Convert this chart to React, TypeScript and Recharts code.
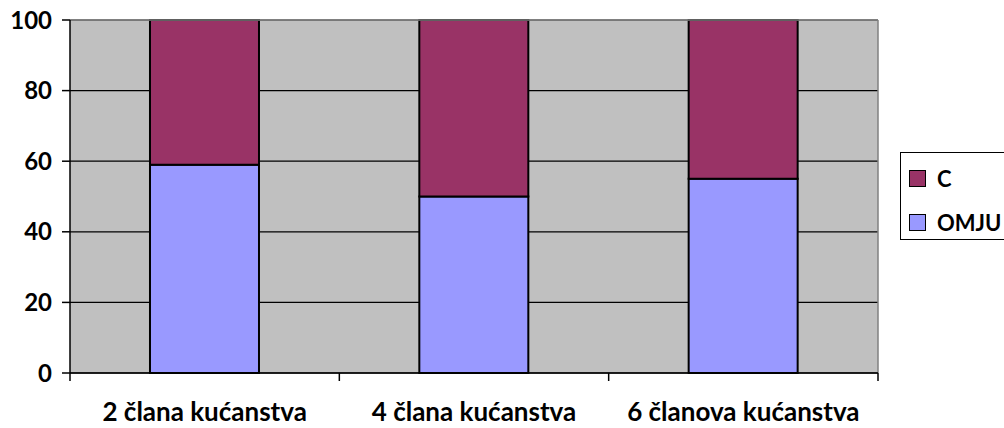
import { Bar, BarChart, CartesianGrid, ReferenceLine, XAxis, YAxis } from 'recharts';

// kategorije i vrijednosti (postotci)
const categories = ['2 člana kućanstva', '4 člana kućanstva', '6 članova kućanstva'];
const omju = [59, 50, 55];
const c = [41, 50, 45];
const yTicks = [0, 20, 40, 60, 80, 100];
// rubovi kategorija (0..3) i sredine (x.5) za donju os
const edgeTicks = [0, 0.5, 1, 1.5, 2, 2.5, 3];

const FONT = 'Lato, "Open Sans", sans-serif';
const COLORS = { omju: '#9999FF', c: '#993366', plot: '#C0C0C0' };

const data = categories.map((name, i) => ({ name, pos: i + 0.5, OMJU: omju[i], C: c[i] }));

const EdgeTick = (props: any) => {
  const { x, y, payload } = props;
  const v = payload.value as number;
  if (Number.isInteger(v)) {
    // crtica na granici kategorija
    return <line x1={x} x2={x} y1={y - 6} y2={y + 2} stroke="#000" strokeWidth={1.5} />;
  }
  return (
    <text x={x} y={y + 42} textAnchor="middle" fontFamily={FONT} fontWeight={700} fontSize={26} fill="#000">
      {categories[Math.floor(v)]}
    </text>
  );
};

const LegendBox = () => {
  const items = [
    { label: 'C', color: COLORS.c },
    { label: 'OMJU', color: COLORS.omju },
  ];
  return (
    <div style={{ position: 'absolute', left: 900, top: 152, border: '1px solid #000', width: 130, height: 88, boxSizing: 'border-box', paddingTop: 14, paddingLeft: 8, background: '#fff' }}>
      {items.map((it, i) => (
        <div key={i} style={{ display: 'flex', alignItems: 'center', height: 22, marginBottom: i === 0 ? 22 : 0 }}>
          <div style={{ width: 17, height: 17, background: it.color, border: '1.5px solid #000', boxSizing: 'border-box' }} />
          <span style={{ marginLeft: 11, fontFamily: FONT, fontWeight: 700, fontSize: 22, color: '#000' }}>{it.label}</span>
        </div>
      ))}
    </div>
  );
};

export default function App() {
  return (
    <div style={{ position: 'fixed', left: 0, top: 0, width: 1004, height: 428, overflow: 'hidden', background: '#fff' }}>
      <BarChart width={1004} height={428} data={data} margin={{ top: 20, right: 126, bottom: 0, left: 0 }} barCategoryGap="29.7%">
        <CartesianGrid vertical={false} stroke="#000" strokeWidth={1.2} fill={COLORS.plot} fillOpacity={1} />
        <XAxis dataKey="name" hide height={0} />
        <XAxis
          xAxisId="edges"
          dataKey="pos"
          type="number"
          scale="linear"
          domain={[0, 3]}
          allowDataOverflow
          ticks={edgeTicks}
          interval={0}
          height={55}
          axisLine={{ stroke: '#000', strokeWidth: 1.5 }}
          tickLine={false}
          tick={<EdgeTick />}
          tickMargin={0}
        />
        <YAxis
          width={70}
          domain={[0, 100]}
          ticks={yTicks}
          interval={0}
          tickSize={8}
          tickMargin={10}
          axisLine={{ stroke: '#000', strokeWidth: 1.5 }}
          tickLine={{ stroke: '#000', strokeWidth: 1.5 }}
          tick={{ fontFamily: FONT, fontWeight: 700, fontSize: 24, fill: '#000' }}
        />
        <ReferenceLine y={100} stroke="#808080" strokeWidth={1.5} />
        <ReferenceLine xAxisId="edges" x={3} stroke="#808080" strokeWidth={1.5} />
        <Bar dataKey="OMJU" stackId="s" fill={COLORS.omju} stroke="#000" strokeWidth={2} isAnimationActive={false} />
        <Bar dataKey="C" stackId="s" fill={COLORS.c} stroke="#000" strokeWidth={2} isAnimationActive={false} />
      </BarChart>
      <LegendBox />
    </div>
  );
}
